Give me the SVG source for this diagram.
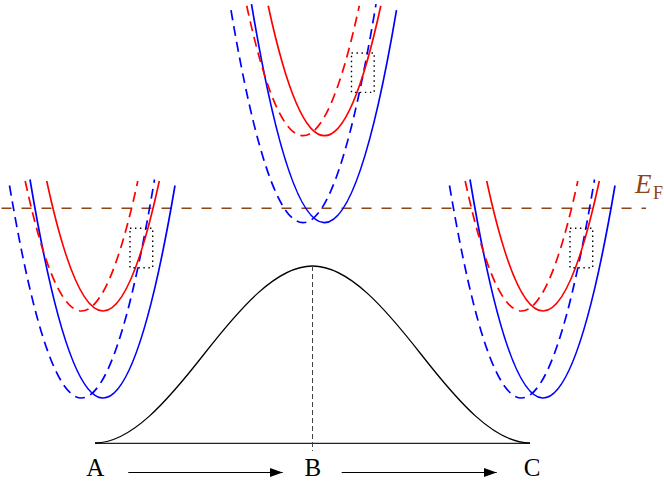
<svg xmlns="http://www.w3.org/2000/svg" width="664" height="482" viewBox="0 0 664 482">
<style>
.rs{fill:none;stroke:#ff0000;stroke-width:1.7}
.rd{fill:none;stroke:#ff0000;stroke-width:1.7;stroke-dasharray:10 6}
.bs{fill:none;stroke:#0000ff;stroke-width:1.7}
.bd{fill:none;stroke:#0000ff;stroke-width:1.7;stroke-dasharray:10 6}
.box{fill:none;stroke:#000;stroke-width:1.4;stroke-dasharray:1.4 3.6}
.ef{fill:none;stroke:#8f4513;stroke-width:1.4;stroke-dasharray:10 10}
.lbl{font-family:"Liberation Serif","Times New Roman",serif;font-size:25px;fill:#000;text-anchor:middle}
</style>
<defs>
<marker id="ah" markerWidth="13" markerHeight="9" refX="13" refY="4.5" orient="auto" markerUnits="userSpaceOnUse">
<path d="M0,0 L13,4.5 L0,9 Z" fill="#000"/>
</marker>
<g id="bands">
<path class="bd" d="M9.5,185.5 Q82,613.5 154.5,179.5"/>
<path class="bs" d="M30,179.5 Q102.5,613.5 175,185.5"/>
<path class="rd" d="M25.2,181 Q81.5,441 137.8,181"/>
<path class="rs" d="M46.7,181 Q103,441 159.3,181"/>
<rect class="box" x="130" y="228.3" width="22.7" height="39.4"/>
</g>
</defs>
<g id="fermi-level">
<line class="ef" x1="1.5" y1="208.3" x2="646" y2="208.3"/>
<text x="635" y="193" font-family="'Liberation Serif','Times New Roman',serif" font-style="italic" font-size="27" fill="#8f4513">E</text>
<text x="653" y="199" font-family="'Liberation Serif','Times New Roman',serif" font-size="18" fill="#8f4513">F</text>
</g>
<g id="bands-A"><use href="#bands"/></g>
<g id="bands-B"><use href="#bands" transform="translate(221.5,-175.3)"/></g>
<g id="bands-C"><use href="#bands" transform="translate(440,0)"/></g>
<g id="profile">
<line x1="95" y1="443.3" x2="530" y2="443.3" stroke="#222" stroke-width="1.3"/>
<path d="M95,443 C131.25,443 167.5,400.84 203.75,354.5 C240,308.16 276.25,266 312.5,266 C348.75,266 385,308.16 421.25,354.5 C457.5,400.84 493.75,443 530,443" fill="none" stroke="#000" stroke-width="1.3"/>
<line x1="312.5" y1="266" x2="312.5" y2="451" stroke="#444" stroke-width="1" stroke-dasharray="5 3"/>
</g>
<g id="label-A"><text class="lbl" x="95.3" y="476">A</text></g>
<g id="label-B"><text class="lbl" x="312.8" y="476">B</text></g>
<g id="label-C"><text class="lbl" x="532" y="476">C</text></g>
<g id="connectors">
<line x1="128.3" y1="472.5" x2="282.7" y2="472.5" stroke="#000" stroke-width="1" marker-end="url(#ah)"/>
<line x1="341.7" y1="472.5" x2="496.7" y2="472.5" stroke="#000" stroke-width="1" marker-end="url(#ah)"/>
</g>
</svg>
